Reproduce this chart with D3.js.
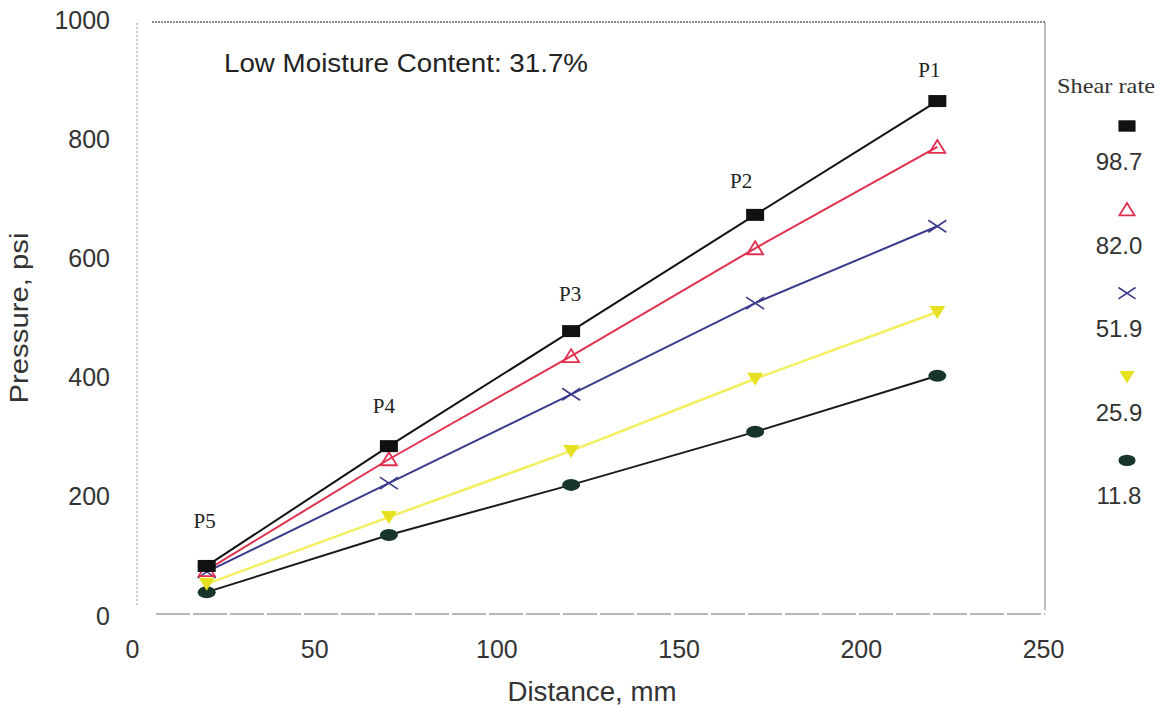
<!DOCTYPE html>
<html><head><meta charset="utf-8">
<script src="https://cdn.jsdelivr.net/npm/d3@7"></script>
<style>body{margin:0;background:#fff}</style>
</head><body>
<svg id="c" width="1172" height="709"></svg>
<script>
const distances = [20.5, 70.5, 120.5, 171, 221];
const portLabels = ["P5", "P4", "P3", "P2", "P1"];
const shearRates = ["98.7", "82.0", "51.9", "25.9", "11.8"];
const s98 = [84, 285, 478, 673, 864];
const s82 = [77, 263, 436, 617, 787];
const s52 = [74, 223, 372, 525, 654];
const s26 = [54, 166, 277, 398, 510];
const s12 = [40, 136, 220, 309, 403];
const xTicks = [0, 50, 100, 150, 200, 250];
const yTicks = [0, 200, 400, 600, 800, 1000];

const series = [
  {name: shearRates[0], vals: s98, line: "#111", mark: "square", fill: "#111", stroke: "#111"},
  {name: shearRates[1], vals: s82, line: "#e0304e", mark: "tri", fill: "none", stroke: "#e0304e"},
  {name: shearRates[2], vals: s52, line: "#3b3b8c", mark: "x", fill: "none", stroke: "#3b3b8c"},
  {name: shearRates[3], vals: s26, line: "#f2ef5e", mark: "tridown", fill: "#e6e020", stroke: "#e6e020"},
  {name: shearRates[4], vals: s12, line: "#1a1a1a", mark: "ellipse", fill: "#17352a", stroke: "#17352a"}
];

const svg = d3.select("#c");
const x = d3.scaleLinear().domain([0, 250]).range([132, 1043]);
const y = d3.scaleLinear().domain([0, 1000]).range([616, 20]);
const sans = "Liberation Sans, Arial, sans-serif";
const serif = "Liberation Serif, Times New Roman, serif";

// frame
const fr = svg.append("g").attr("fill", "none");
fr.append("line").attr("x1", 152).attr("x2", 1045).attr("y1", 22).attr("y2", 22)
  .attr("stroke", "#666").attr("stroke-width", 1.4).attr("stroke-dasharray", "2,1");
fr.append("line").attr("x1", 137).attr("x2", 137).attr("y1", 23).attr("y2", 606)
  .attr("stroke", "#999").attr("stroke-width", 1).attr("stroke-dasharray", "2,2");
fr.append("line").attr("x1", 1045).attr("x2", 1045).attr("y1", 22).attr("y2", 610)
  .attr("stroke", "#999").attr("stroke-width", 1.3);
fr.append("line").attr("x1", 156).attr("x2", 1045).attr("y1", 614).attr("y2", 614)
  .attr("stroke", "#a0a0a0").attr("stroke-width", 1.6).attr("stroke-dasharray", "34,3");

// axes (labels only)
const xa = svg.append("g").attr("transform", "translate(0,658)")
  .call(d3.axisBottom(x).tickValues(xTicks).tickFormat(d3.format("d")).tickSize(0).tickPadding(0));
xa.select(".domain").remove();
xa.selectAll("text").attr("font-family", sans).attr("font-size", 25).attr("fill", "#333").attr("dy", "0");
const ya = svg.append("g").attr("transform", "translate(110,0)")
  .call(d3.axisLeft(y).tickValues(yTicks).tickFormat(d3.format("d")).tickSize(0).tickPadding(0));
ya.select(".domain").remove();
ya.selectAll("text").attr("font-family", sans).attr("font-size", 25).attr("fill", "#333");

svg.append("text").attr("x", 592).attr("y", 701).attr("text-anchor", "middle")
  .attr("font-family", sans).attr("font-size", 27).attr("fill", "#333")
  .attr("textLength", 169).attr("lengthAdjust", "spacingAndGlyphs").text("Distance, mm");
svg.append("text").attr("transform", "translate(28,318) rotate(-90)").attr("text-anchor", "middle")
  .attr("font-family", sans).attr("font-size", 26).attr("fill", "#333")
  .attr("textLength", 171).attr("lengthAdjust", "spacingAndGlyphs").text("Pressure, psi");
svg.append("text").attr("x", 224).attr("y", 72).attr("font-family", sans).attr("font-size", 25)
  .attr("fill", "#222").attr("textLength", 364).attr("lengthAdjust", "spacingAndGlyphs")
  .text("Low Moisture Content: 31.7%");

// lines
const line = d3.line().x((d, i) => x(distances[i])).y(d => y(d));
series.slice().reverse().forEach(s => {
  svg.append("path").attr("d", line(s.vals)).attr("fill", "none")
    .attr("stroke", s.line).attr("stroke-width", s.mark === "tridown" ? 2.5 : 2);
});

function drawMark(g, type, cx, cy, sc, s) {
  sc = sc || 1;
  if (type === "square") {
    g.append("rect").attr("x", cx - 9*sc).attr("y", cy - 6*sc).attr("width", 18*sc).attr("height", 12*sc)
      .attr("fill", s.fill);
  } else if (type === "tri") {
    g.append("path").attr("d", `M${cx},${cy-7*sc} L${cx+8*sc},${cy+6*sc} L${cx-8*sc},${cy+6*sc} Z`)
      .attr("fill", "none").attr("stroke", s.stroke).attr("stroke-width", 1.8);
  } else if (type === "x") {
    g.append("path").attr("d", `M${cx-9*sc},${cy-6*sc} L${cx+9*sc},${cy+6*sc} M${cx-9*sc},${cy+6*sc} L${cx+9*sc},${cy-6*sc}`)
      .attr("stroke", s.stroke).attr("stroke-width", 1.6);
  } else if (type === "tridown") {
    g.append("path").attr("d", `M${cx-8*sc},${cy-6*sc} L${cx+8*sc},${cy-6*sc} L${cx},${cy+7*sc} Z`)
      .attr("fill", s.fill);
  } else if (type === "ellipse") {
    g.append("ellipse").attr("cx", cx).attr("cy", cy).attr("rx", 9*sc).attr("ry", 6*sc).attr("fill", s.fill);
  }
}

series.slice().reverse().forEach(s => {
  const g = svg.append("g");
  s.vals.forEach((v, i) => drawMark(g, s.mark, x(distances[i]), y(v), 1, s));
});

// port labels (placed above the top series)
const labDx = [-2, -5, -1, -14, -8];
const labDy = [38, 33, 30, 27, 24];
portLabels.forEach((p, i) => {
  svg.append("text").attr("x", x(distances[i]) + labDx[i]).attr("y", y(s98[i]) - labDy[i])
    .attr("text-anchor", "middle").attr("font-family", serif).attr("font-size", 21).attr("fill", "#222").text(p);
});

// legend
svg.append("text").attr("x", 1106).attr("y", 93).attr("text-anchor", "middle")
  .attr("font-family", serif).attr("font-size", 21).attr("fill", "#333")
  .attr("textLength", 98).attr("lengthAdjust", "spacingAndGlyphs").text("Shear rate");
const legTop = 126, legStep = 83.6;
series.forEach((s, i) => {
  const g = svg.append("g");
  drawMark(g, s.mark, 1127, legTop + i*legStep, 0.95, s);
  svg.append("text").attr("x", 1119).attr("y", legTop + i*legStep + 44).attr("text-anchor", "middle")
    .attr("font-family", sans).attr("font-size", 24).attr("fill", "#333").text(s.name);
});
</script>
</body></html>
